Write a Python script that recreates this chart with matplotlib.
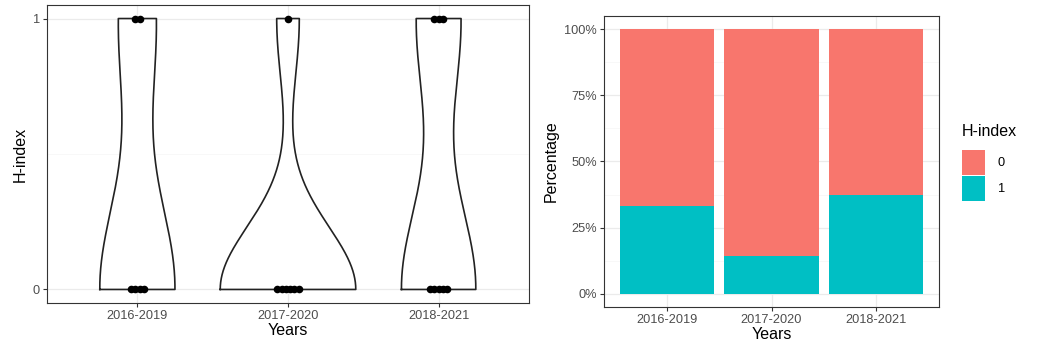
import matplotlib
matplotlib.use("Agg")
import matplotlib.pyplot as plt
from matplotlib.patches import Patch
import numpy as np

plt.rcParams['font.family'] = ['Liberation Sans', 'DejaVu Sans']

years = ['2016-2019', '2017-2020', '2018-2021']
h_2016_2019 = [0, 0, 0, 0, 1, 1]
h_2017_2020 = [0, 0, 0, 0, 0, 0, 1]
h_2018_2021 = [0, 0, 0, 0, 0, 1, 1, 1]
groups = [h_2016_2019, h_2017_2020, h_2018_2021]
levels = [0, 1]
level_colors = ['#F8766D', '#00BFC4']

TEXT = '#4D4D4D'
LINE = '#333333'
GRID = '#EBEBEB'


def nrd0(x):
    x = np.asarray(x, float)
    hi = np.std(x, ddof=1)
    iqr = np.percentile(x, 75) - np.percentile(x, 25)
    lo = min(hi, iqr / 1.34)
    if lo == 0:
        lo = hi
    return 0.9 * lo * len(x) ** -0.2


def kde(x, grid):
    x = np.asarray(x, float)
    bw = nrd0(x)
    z = (grid[:, None] - x[None, :]) / bw
    return np.exp(-0.5 * z ** 2).sum(axis=1) / (len(x) * bw * np.sqrt(2 * np.pi))


def style_axes(ax):
    for s in ax.spines.values():
        s.set_color(LINE)
        s.set_linewidth(0.8)
    ax.tick_params(axis='both', colors=LINE, labelcolor=TEXT, labelsize=9.2,
                   length=3, width=0.8, pad=2)
    ax.tick_params(axis='both', which='minor', length=0)
    ax.set_axisbelow(True)
    ax.grid(True, which='major', color=GRID, linewidth=0.9)
    ax.grid(True, which='minor', color='#F5F5F5', linewidth=0.5)


fig = plt.figure(figsize=(10.47, 3.53), dpi=100)

# ---- violin + dotplot ----
ax1 = fig.add_axes([47 / 1047, 50 / 353, 482 / 1047, 298 / 353])
style_axes(ax1)
xs = np.arange(1, len(years) + 1)
grid = np.linspace(0, 1, 512)
dens = [kde(g, grid) for g in groups]
dmax = max(d.max() for d in dens)
for x, d, g in zip(xs, dens, groups):
    w = d / dmax * 0.45
    ax1.fill_betweenx(grid, x - w, x + w, facecolor='white', edgecolor='none', zorder=2)
    ax1.plot(np.concatenate([x - w, (x + w)[::-1], [x - w[0]]]),
             np.concatenate([grid, grid[::-1], [grid[0]]]),
             color='#222222', lw=1.2, zorder=3)
    g = np.asarray(g)
    for lv in levels:
        n = (g == lv).sum()
        off = (np.arange(n) - (n - 1) / 2) * 0.0285
        ax1.scatter(x + off, np.full(n, lv), s=30, color='black', zorder=4, linewidths=0)

ax1.set_xlim(0.4, 3.6)
ax1.set_ylim(-0.05, 1.05)
ax1.set_xticks(xs)
ax1.set_xticklabels(years)
ax1.set_yticks([0, 1])
ax1.set_yticks([0.5], minor=True)
ax1.set_xlabel('Years', fontsize=11.5, labelpad=1)
ax1.set_ylabel('H-index', fontsize=11.5, labelpad=4)

# ---- stacked percentage bars ----
ax2 = fig.add_axes([604 / 1047, 46 / 353, 335 / 1047, 291 / 353])
style_axes(ax2)
share_1 = np.array([np.mean(np.asarray(g) == 1) for g in groups])
share_0 = 1 - share_1
ax2.bar(xs, share_1, width=0.9, color=level_colors[1], zorder=2)
ax2.bar(xs, share_0, width=0.9, bottom=share_1, color=level_colors[0], zorder=2)
ax2.set_xlim(0.4, 3.6)
ax2.set_ylim(-0.05, 1.05)
ax2.set_xticks(xs)
ax2.set_xticklabels(years)
ax2.set_yticks([0, 0.25, 0.5, 0.75, 1])
ax2.set_yticklabels(['0%', '25%', '50%', '75%', '100%'])
ax2.set_yticks([0.125, 0.375, 0.625, 0.875], minor=True)
ax2.set_xlabel('Years', fontsize=11.5, labelpad=1)
ax2.set_ylabel('Percentage', fontsize=11.5, labelpad=4)

handles = [Patch(facecolor=c, edgecolor='none') for c in level_colors]
leg = fig.legend(handles, [str(l) for l in levels], title='H-index',
                 loc='upper left', bbox_to_anchor=(962 / 1047, 1 - 124 / 353),
                 frameon=False, fontsize=9.2, title_fontsize=11.5,
                 handlelength=1.8, handleheight=2.6, labelspacing=0.08,
                 handletextpad=1.0, borderpad=0, borderaxespad=0, alignment='left')
leg._legend_box.sep = 8

fig.savefig('out.png', dpi=100)
